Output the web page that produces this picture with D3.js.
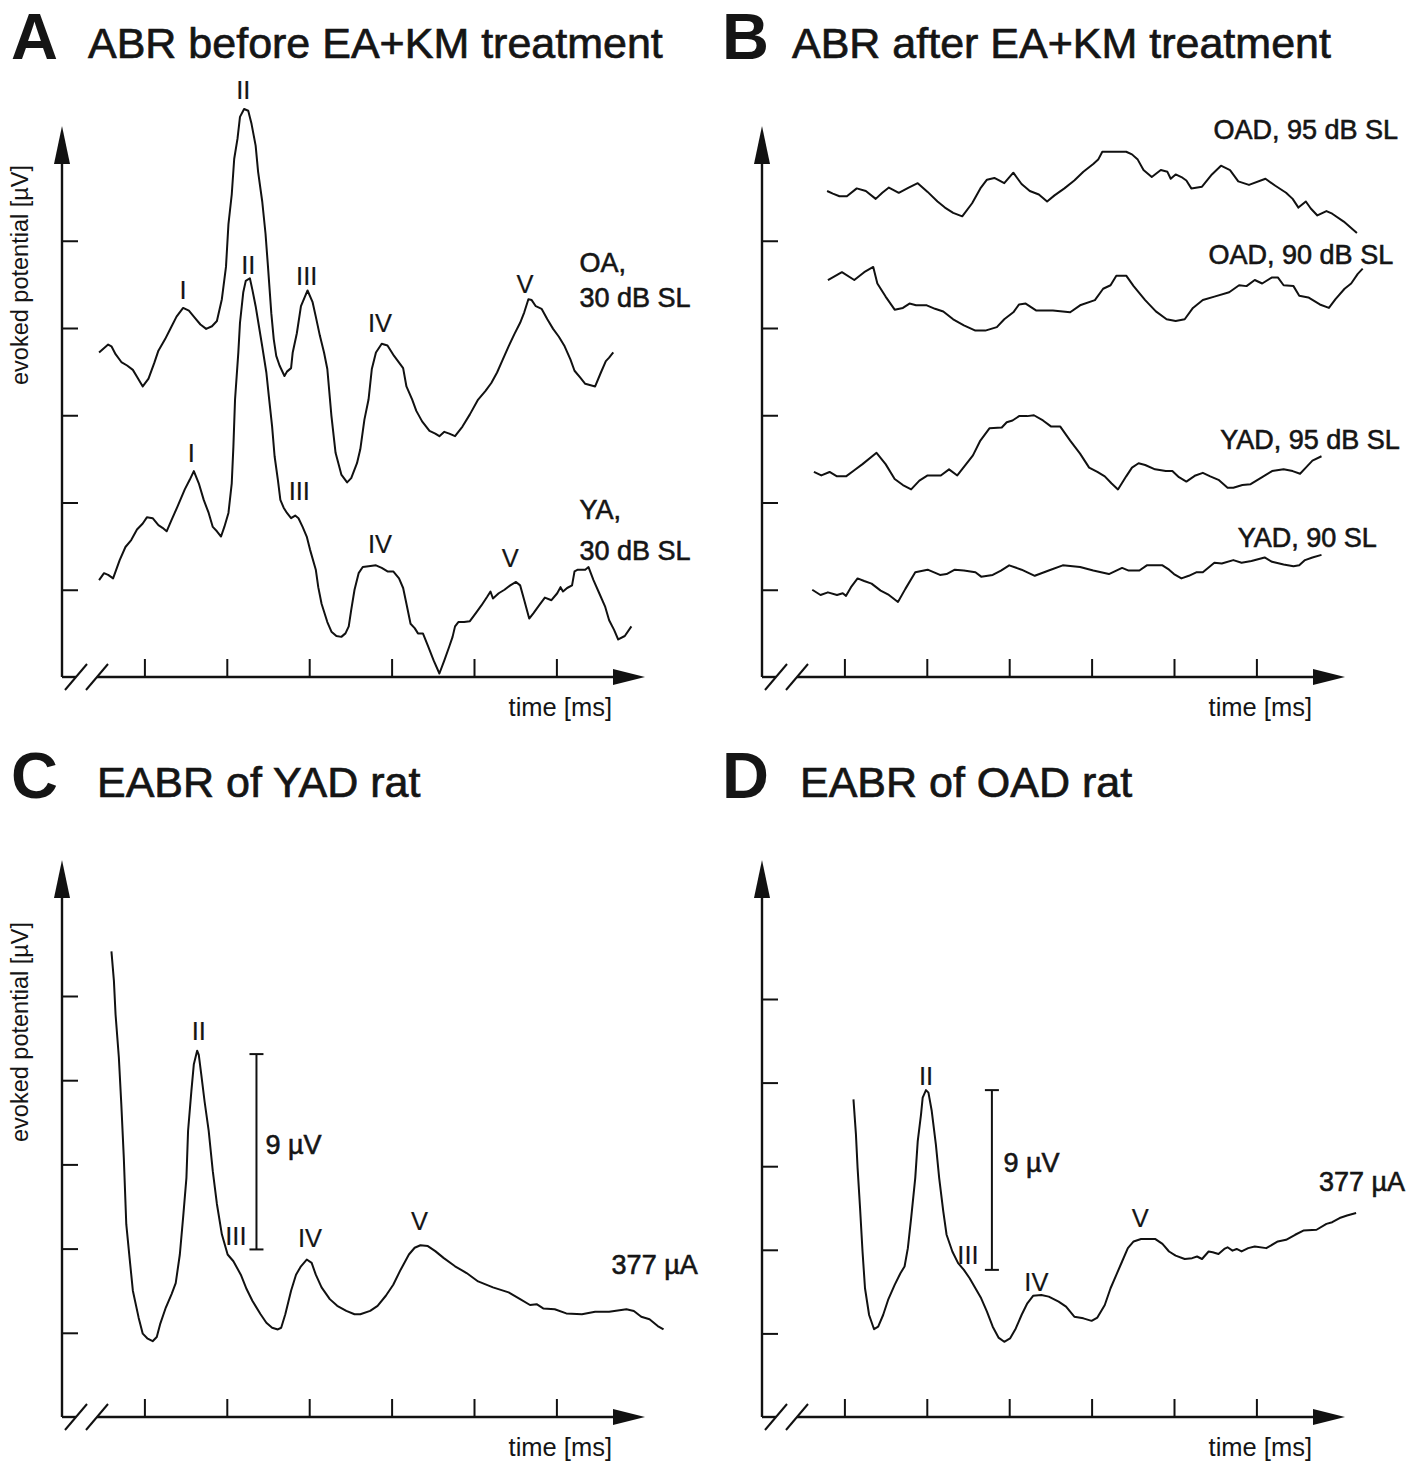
<!DOCTYPE html>
<html>
<head>
<meta charset="utf-8">
<script src="https://cdn.jsdelivr.net/npm/d3@7"></script>
<style>
  body { margin: 0; background: #fff; }
  text { font-family: "Liberation Sans", Arial, sans-serif; fill: #151515; }
  .letter { font-size: 65px; font-weight: bold; }
  .title { font-size: 43px; stroke: #151515; stroke-width: 0.7px; }
  .note { font-size: 27px; stroke: #151515; stroke-width: 0.6px; }
  .num { font-size: 25.5px; stroke: #151515; stroke-width: 0.2px; }
  .axlabel { font-size: 25.5px; }
  .ylab { font-size: 23.5px; }
</style>
</head>
<body>
<svg id="fig" width="1418" height="1471"></svg>
<script>
// tick positions (time in ms units, potential in grid units)
const xTicks = [1, 2, 3, 4, 5, 6];
const yTicks = [1, 2, 3, 4, 5];

// Panel A – ABR before treatment, [time, potential]
const oaTrace = [[0.45,3.72],[0.56,3.81],[0.60,3.79],[0.65,3.70],[0.72,3.61],[0.79,3.57],[0.86,3.52],[0.91,3.44],[0.98,3.33],[1.05,3.42],[1.12,3.60],[1.17,3.74],[1.25,3.87],[1.32,4.00],[1.39,4.13],[1.47,4.23],[1.54,4.20],[1.61,4.12],[1.68,4.04],[1.75,3.99],[1.82,4.02],[1.88,4.08],[1.94,4.33],[1.99,4.70],[2.02,5.19],[2.06,5.53],[2.09,5.94],[2.13,6.17],[2.16,6.42],[2.21,6.51],[2.26,6.49],[2.30,6.34],[2.35,6.09],[2.38,5.79],[2.43,5.45],[2.47,5.08],[2.50,4.70],[2.54,4.17],[2.57,3.87],[2.60,3.68],[2.64,3.57],[2.70,3.45],[2.73,3.50],[2.78,3.54],[2.80,3.72],[2.85,3.94],[2.90,4.25],[2.98,4.43],[3.04,4.30],[3.08,4.13],[3.13,3.91],[3.18,3.72],[3.22,3.53],[3.27,2.99],[3.32,2.57],[3.39,2.32],[3.46,2.23],[3.51,2.28],[3.58,2.45],[3.62,2.61],[3.67,2.95],[3.72,3.18],[3.76,3.53],[3.81,3.72],[3.88,3.82],[3.95,3.80],[4.03,3.68],[4.14,3.54],[4.18,3.33],[4.25,3.18],[4.30,3.05],[4.37,2.93],[4.46,2.82],[4.53,2.79],[4.58,2.76],[4.64,2.81],[4.70,2.79],[4.77,2.76],[4.86,2.87],[4.95,3.01],[5.05,3.18],[5.14,3.28],[5.21,3.37],[5.28,3.49],[5.35,3.64],[5.42,3.79],[5.49,3.93],[5.56,4.06],[5.61,4.18],[5.66,4.33],[5.70,4.32],[5.75,4.25],[5.82,4.22],[5.89,4.10],[5.96,3.99],[6.03,3.90],[6.10,3.79],[6.17,3.64],[6.22,3.51],[6.29,3.43],[6.35,3.36],[6.47,3.33],[6.54,3.49],[6.60,3.62],[6.64,3.66],[6.69,3.72]];
const yaTrace = [[0.45,1.11],[0.51,1.19],[0.56,1.17],[0.62,1.13],[0.70,1.34],[0.77,1.49],[0.84,1.57],[0.91,1.69],[0.98,1.76],[1.03,1.83],[1.10,1.82],[1.17,1.74],[1.22,1.71],[1.27,1.67],[1.33,1.80],[1.40,1.95],[1.49,2.15],[1.55,2.26],[1.60,2.36],[1.66,2.22],[1.72,2.03],[1.78,1.88],[1.83,1.72],[1.88,1.67],[1.93,1.61],[1.97,1.72],[2.02,1.88],[2.06,2.22],[2.08,2.64],[2.10,3.18],[2.14,3.72],[2.16,4.06],[2.20,4.41],[2.23,4.54],[2.28,4.57],[2.31,4.44],[2.35,4.25],[2.39,4.02],[2.43,3.79],[2.48,3.49],[2.51,3.22],[2.55,2.87],[2.58,2.53],[2.62,2.26],[2.65,2.03],[2.69,1.94],[2.73,1.88],[2.78,1.82],[2.83,1.85],[2.87,1.82],[2.92,1.72],[2.97,1.61],[3.01,1.46],[3.08,1.23],[3.11,1.03],[3.15,0.84],[3.22,0.63],[3.27,0.52],[3.33,0.47],[3.39,0.46],[3.44,0.50],[3.48,0.58],[3.51,0.77],[3.55,1.00],[3.60,1.19],[3.65,1.26],[3.72,1.27],[3.81,1.28],[3.88,1.25],[3.95,1.21],[4.02,1.21],[4.09,1.13],[4.14,1.02],[4.18,0.84],[4.23,0.61],[4.28,0.56],[4.32,0.50],[4.38,0.50],[4.44,0.36],[4.51,0.19],[4.58,0.04],[4.64,0.19],[4.70,0.35],[4.74,0.46],[4.77,0.58],[4.81,0.63],[4.88,0.63],[4.95,0.64],[5.02,0.73],[5.09,0.82],[5.16,0.92],[5.20,0.98],[5.23,0.90],[5.30,0.96],[5.37,1.00],[5.44,1.05],[5.51,1.09],[5.56,1.05],[5.61,0.88],[5.67,0.67],[5.72,0.73],[5.79,0.82],[5.86,0.91],[5.94,0.88],[6.01,0.96],[6.05,1.03],[6.08,0.98],[6.13,1.02],[6.19,1.05],[6.22,1.21],[6.26,1.23],[6.35,1.23],[6.39,1.26],[6.45,1.11],[6.52,0.96],[6.59,0.81],[6.64,0.65],[6.70,0.54],[6.75,0.43],[6.83,0.47],[6.91,0.58]];

// Panel B – ABR after treatment
const oad95 = [[0.79,5.57],[0.86,5.54],[0.94,5.51],[1.03,5.51],[1.15,5.60],[1.26,5.57],[1.38,5.48],[1.46,5.55],[1.54,5.61],[1.66,5.55],[1.78,5.61],[1.89,5.66],[2.01,5.56],[2.13,5.45],[2.22,5.38],[2.32,5.32],[2.43,5.28],[2.55,5.43],[2.65,5.60],[2.73,5.70],[2.82,5.72],[2.94,5.66],[3.05,5.78],[3.15,5.65],[3.25,5.57],[3.36,5.53],[3.46,5.45],[3.55,5.52],[3.67,5.60],[3.79,5.69],[3.90,5.79],[4.02,5.88],[4.08,5.93],[4.13,6.02],[4.25,6.02],[4.42,6.02],[4.49,5.99],[4.56,5.93],[4.63,5.81],[4.73,5.73],[4.84,5.81],[4.92,5.79],[4.96,5.71],[5.02,5.76],[5.09,5.73],[5.15,5.69],[5.21,5.60],[5.34,5.62],[5.46,5.76],[5.57,5.86],[5.68,5.81],[5.78,5.68],[5.91,5.64],[6.11,5.71],[6.23,5.63],[6.36,5.55],[6.44,5.48],[6.51,5.38],[6.60,5.45],[6.66,5.37],[6.74,5.29],[6.85,5.34],[6.92,5.31],[7.06,5.22],[7.22,5.09]];
const oad90 = [[0.80,4.55],[0.97,4.64],[1.12,4.55],[1.24,4.64],[1.35,4.70],[1.40,4.51],[1.50,4.36],[1.61,4.21],[1.71,4.23],[1.79,4.28],[1.87,4.26],[2.00,4.26],[2.10,4.22],[2.20,4.19],[2.32,4.10],[2.45,4.03],[2.59,3.97],[2.71,3.97],[2.85,4.01],[2.94,4.10],[3.05,4.18],[3.12,4.27],[3.20,4.28],[3.33,4.20],[3.53,4.20],[3.74,4.18],[3.86,4.26],[4.04,4.32],[4.14,4.45],[4.23,4.49],[4.30,4.60],[4.42,4.60],[4.51,4.48],[4.65,4.32],[4.78,4.19],[4.91,4.10],[5.02,4.08],[5.13,4.10],[5.23,4.23],[5.35,4.32],[5.49,4.36],[5.67,4.41],[5.79,4.49],[5.88,4.48],[5.98,4.55],[6.07,4.51],[6.19,4.58],[6.26,4.58],[6.33,4.49],[6.45,4.48],[6.52,4.37],[6.63,4.35],[6.77,4.27],[6.88,4.23],[6.96,4.33],[7.07,4.45],[7.15,4.51],[7.23,4.62],[7.29,4.68]];
const yad95 = [[0.63,2.35],[0.72,2.31],[0.82,2.35],[0.91,2.30],[1.02,2.30],[1.12,2.37],[1.22,2.44],[1.39,2.57],[1.50,2.44],[1.61,2.27],[1.71,2.20],[1.81,2.15],[1.91,2.25],[2.01,2.31],[2.17,2.31],[2.27,2.38],[2.37,2.31],[2.47,2.43],[2.56,2.54],[2.65,2.71],[2.76,2.85],[2.91,2.86],[2.97,2.92],[3.04,2.94],[3.12,2.99],[3.22,2.99],[3.30,3.00],[3.41,2.94],[3.51,2.87],[3.62,2.87],[3.74,2.71],[3.86,2.56],[3.97,2.40],[4.07,2.35],[4.16,2.30],[4.24,2.22],[4.32,2.15],[4.42,2.30],[4.49,2.40],[4.57,2.45],[4.65,2.43],[4.77,2.38],[4.90,2.36],[4.98,2.36],[5.06,2.29],[5.15,2.24],[5.26,2.31],[5.35,2.34],[5.44,2.30],[5.54,2.26],[5.65,2.17],[5.72,2.17],[5.83,2.20],[5.93,2.21],[6.07,2.29],[6.19,2.36],[6.33,2.38],[6.44,2.36],[6.53,2.33],[6.60,2.40],[6.68,2.48],[6.79,2.53]];
const yad90 = [[0.61,1.00],[0.71,0.94],[0.80,0.97],[0.91,0.94],[0.98,0.96],[1.02,0.93],[1.08,1.03],[1.16,1.13],[1.24,1.10],[1.33,1.07],[1.44,0.99],[1.54,0.94],[1.65,0.86],[1.74,1.01],[1.86,1.20],[2.01,1.23],[2.16,1.17],[2.24,1.18],[2.34,1.23],[2.45,1.22],[2.59,1.20],[2.66,1.15],[2.80,1.17],[2.90,1.22],[3.00,1.28],[3.15,1.23],[3.31,1.16],[3.48,1.22],[3.65,1.28],[3.86,1.26],[4.02,1.22],[4.21,1.18],[4.37,1.25],[4.45,1.22],[4.58,1.22],[4.67,1.28],[4.86,1.28],[4.94,1.23],[5.00,1.18],[5.09,1.13],[5.18,1.16],[5.27,1.20],[5.35,1.20],[5.49,1.31],[5.58,1.30],[5.72,1.34],[5.82,1.31],[5.94,1.33],[6.10,1.37],[6.19,1.32],[6.33,1.29],[6.45,1.27],[6.52,1.28],[6.59,1.34],[6.68,1.37],[6.79,1.40]];

// Panel C / D – EABR traces
const eabrYad = [[0.60,5.53],[0.63,5.18],[0.65,4.78],[0.69,4.27],[0.72,3.71],[0.75,3.08],[0.78,2.29],[0.82,1.89],[0.86,1.50],[0.93,1.18],[0.98,0.99],[1.04,0.93],[1.10,0.90],[1.15,0.95],[1.19,1.10],[1.26,1.30],[1.33,1.46],[1.38,1.59],[1.43,1.93],[1.47,2.37],[1.51,2.84],[1.53,3.40],[1.57,3.87],[1.60,4.19],[1.64,4.35],[1.66,4.30],[1.69,4.07],[1.73,3.75],[1.78,3.40],[1.83,2.92],[1.88,2.53],[1.94,2.17],[2.01,1.93],[2.08,1.85],[2.17,1.69],[2.24,1.52],[2.31,1.38],[2.41,1.22],[2.48,1.12],[2.55,1.06],[2.62,1.04],[2.66,1.06],[2.71,1.22],[2.78,1.50],[2.84,1.69],[2.90,1.79],[2.97,1.87],[3.03,1.83],[3.08,1.69],[3.15,1.54],[3.25,1.40],[3.34,1.32],[3.45,1.26],[3.55,1.22],[3.62,1.22],[3.74,1.26],[3.83,1.32],[3.93,1.44],[4.02,1.57],[4.11,1.75],[4.21,1.93],[4.28,2.01],[4.35,2.04],[4.44,2.03],[4.53,1.97],[4.63,1.89],[4.77,1.79],[4.91,1.71],[5.05,1.61],[5.23,1.54],[5.42,1.48],[5.56,1.40],[5.68,1.33],[5.76,1.34],[5.84,1.29],[5.98,1.28],[6.12,1.23],[6.31,1.22],[6.47,1.25],[6.64,1.25],[6.85,1.28],[6.94,1.26],[7.03,1.19],[7.13,1.16],[7.23,1.08],[7.30,1.04]];
const eabrOad = [[1.11,3.80],[1.14,3.38],[1.16,2.98],[1.19,2.50],[1.22,1.98],[1.25,1.54],[1.30,1.22],[1.36,1.05],[1.41,1.08],[1.47,1.22],[1.53,1.40],[1.61,1.58],[1.68,1.72],[1.73,1.80],[1.77,2.02],[1.81,2.38],[1.86,2.86],[1.89,3.30],[1.93,3.62],[1.95,3.82],[1.99,3.91],[2.02,3.88],[2.06,3.66],[2.11,3.26],[2.15,2.86],[2.20,2.46],[2.24,2.18],[2.31,1.98],[2.38,1.84],[2.45,1.76],[2.52,1.66],[2.59,1.54],[2.66,1.42],[2.73,1.26],[2.80,1.08],[2.87,0.95],[2.94,0.90],[3.01,0.94],[3.08,1.06],[3.15,1.22],[3.22,1.36],[3.29,1.45],[3.39,1.46],[3.48,1.44],[3.60,1.38],[3.69,1.32],[3.79,1.20],[3.90,1.18],[4.00,1.15],[4.07,1.19],[4.16,1.34],[4.23,1.54],[4.30,1.70],[4.37,1.86],[4.44,2.02],[4.51,2.10],[4.60,2.13],[4.77,2.13],[4.86,2.07],[4.94,1.98],[5.02,1.93],[5.13,1.89],[5.22,1.90],[5.28,1.92],[5.34,1.89],[5.42,1.98],[5.47,1.97],[5.54,1.95],[5.61,2.01],[5.65,2.03],[5.71,1.99],[5.76,2.01],[5.82,1.98],[5.90,2.02],[5.98,2.04],[6.12,2.02],[6.26,2.10],[6.36,2.12],[6.47,2.18],[6.57,2.23],[6.73,2.24],[6.85,2.31],[6.92,2.33],[7.01,2.38],[7.10,2.41],[7.21,2.44]];

// wave labels: [text, time, potential]
const wavesA = [["I",1.47,4.43],["II",2.20,6.73],["III",2.97,4.60],["IV",3.86,4.06],["V",5.62,4.50],
                ["I",1.57,2.57],["II",2.26,4.72],["III",2.88,2.13],["IV",3.86,1.53],["V",5.44,1.36]];
const wavesC = [["II",1.66,4.58],["III",2.11,2.15],["IV",3.01,2.12],["V",4.34,2.33]];
const wavesD = [["II",1.99,4.08],["III",2.50,1.94],["IV",3.33,1.62],["V",4.59,2.38]];

// recording labels: [text, time, potential]
const notesA = [["OA,",6.28,4.75],["30 dB SL",6.28,4.34],["YA,",6.28,1.91],["30 dB SL",6.28,1.44]];
const notesB = [["OAD, 95 dB SL",7.72,6.27],["OAD, 90 dB SL",7.66,4.84],["YAD, 95 dB SL",7.74,2.72],["YAD, 90 SL",7.46,1.59]];
const notesC = [["377 µA",6.67,1.81],["9 µV",2.47,3.23]];
const notesD = [["377 µA",6.76,2.81],["9 µV",2.93,3.04]];

// scale bars: [time, from, to]
const barC = [2.36, 1.99, 4.31];
const barD = [2.79, 1.76, 3.91];

const panels = [
  { letter: "A", title: "ABR before EA+KM treatment", lx: 11, tx: 88, ty: 58, ox: 62, oy: 677, ky: 87.25,
    xTip: 645, yTip: 126, yLabel: 275, traces: [oaTrace, yaTrace], waves: wavesA, notes: notesA, anchor: "start" },
  { letter: "B", title: "ABR after EA+KM treatment", lx: 722, tx: 792, ty: 58, ox: 762, oy: 677, ky: 87.25,
    xTip: 1345, yTip: 126, yLabel: null, traces: [oad95, oad90, yad95, yad90], waves: [], notes: notesB, anchor: "end" },
  { letter: "C", title: "EABR of YAD rat", lx: 11, tx: 97, ty: 797, ox: 62, oy: 1417, ky: 84.2,
    xTip: 645, yTip: 860, yLabel: 1032, traces: [eabrYad], waves: wavesC, notes: notesC, anchor: "start", bar: barC },
  { letter: "D", title: "EABR of OAD rat", lx: 722, tx: 800, ty: 797, ox: 762, oy: 1417, ky: 83.6,
    xTip: 1345, yTip: 860, yLabel: null, traces: [eabrOad], waves: wavesD, notes: notesD, anchor: "start", bar: barD }
];

const svg = d3.select("#fig");
const unitX = 82.4;

panels.forEach(p => {
  const x = d3.scaleLinear().domain([0, 1]).range([p.ox, p.ox + unitX]);
  const y = d3.scaleLinear().domain([0, 1]).range([p.oy, p.oy - p.ky]);
  const g = svg.append("g");

  // Panel letter and heading
  g.append("text").attr("class", "letter").attr("x", p.lx).attr("y", p.ty + 1).text(p.letter);
  g.append("text").attr("class", "title").attr("x", p.tx).attr("y", p.ty).text(p.title);

  // Y axis with arrow head
  g.append("line")
    .attr("x1", p.ox).attr("y1", p.oy).attr("x2", p.ox).attr("y2", p.yTip + 30)
    .attr("stroke", "#111").attr("stroke-width", 2.4);
  g.append("path")
    .attr("d", `M${p.ox},${p.yTip} L${p.ox - 8},${p.yTip + 38} L${p.ox + 8},${p.yTip + 38} Z`)
    .attr("fill", "#111");

  const yAxis = g.append("g")
    .attr("transform", `translate(${p.ox},0)`)
    .call(d3.axisRight(y).tickValues(yTicks).tickSize(16).tickFormat(""));
  yAxis.select(".domain").remove();
  yAxis.selectAll("line").attr("stroke", "#111").attr("stroke-width", 2);

  // X axis: short piece, break marks, then the long piece with arrow
  g.append("line")
    .attr("x1", p.ox).attr("y1", p.oy).attr("x2", p.ox + 14).attr("y2", p.oy)
    .attr("stroke", "#111").attr("stroke-width", 2.4);
  [14, 35].forEach(dx => {
    g.append("line")
      .attr("x1", p.ox + dx - 11).attr("y1", p.oy + 13)
      .attr("x2", p.ox + dx + 11).attr("y2", p.oy - 13)
      .attr("stroke", "#111").attr("stroke-width", 2);
  });
  g.append("line")
    .attr("x1", p.ox + 35).attr("y1", p.oy).attr("x2", p.xTip - 28).attr("y2", p.oy)
    .attr("stroke", "#111").attr("stroke-width", 2.4);
  g.append("path")
    .attr("d", `M${p.xTip},${p.oy} L${p.xTip - 32},${p.oy - 8} L${p.xTip - 32},${p.oy + 8} Z`)
    .attr("fill", "#111");

  const xAxis = g.append("g")
    .attr("transform", `translate(0,${p.oy})`)
    .call(d3.axisTop(x).tickValues(xTicks).tickSize(18).tickFormat(""));
  xAxis.select(".domain").remove();
  xAxis.selectAll("line").attr("stroke", "#111").attr("stroke-width", 2);

  g.append("text").attr("class", "axlabel")
    .attr("x", p.xTip - 33).attr("y", p.oy + 39)
    .attr("text-anchor", "end").text("time [ms]");

  if (p.yLabel !== null) {
    g.append("text").attr("class", "ylab")
      .attr("transform", `translate(28,${p.yLabel}) rotate(-90)`)
      .attr("text-anchor", "middle").text("evoked potential [µV]");
  }

  // Traces
  const line = d3.line().x(d => x(d[0])).y(d => y(d[1]));
  g.selectAll(".trace")
    .data(p.traces)
    .join("path")
    .attr("class", "trace")
    .attr("d", line)
    .attr("fill", "none")
    .attr("stroke", "#111")
    .attr("stroke-width", 2)
    .attr("stroke-linejoin", "round");

  // Wave numerals
  g.selectAll(".num")
    .data(p.waves)
    .join("text")
    .attr("class", "num")
    .attr("x", d => x(d[1])).attr("y", d => y(d[2]))
    .attr("text-anchor", "middle")
    .attr("dominant-baseline", "central")
    .text(d => d[0]);

  // Recording labels
  g.selectAll(".note")
    .data(p.notes)
    .join("text")
    .attr("class", "note")
    .attr("x", d => x(d[1])).attr("y", d => y(d[2]))
    .attr("text-anchor", d => d[0] === "9 µV" ? "start" : p.anchor)
    .attr("dominant-baseline", "central")
    .text(d => d[0]);

  // Amplitude scale bar
  if (p.bar) {
    const [bt, b0, b1] = p.bar;
    g.append("line")
      .attr("x1", x(bt)).attr("x2", x(bt)).attr("y1", y(b0)).attr("y2", y(b1))
      .attr("stroke", "#111").attr("stroke-width", 2);
    [b0, b1].forEach(v => {
      g.append("line")
        .attr("x1", x(bt) - 7).attr("x2", x(bt) + 7).attr("y1", y(v)).attr("y2", y(v))
        .attr("stroke", "#111").attr("stroke-width", 2);
    });
  }
});
</script>
</body>
</html>
